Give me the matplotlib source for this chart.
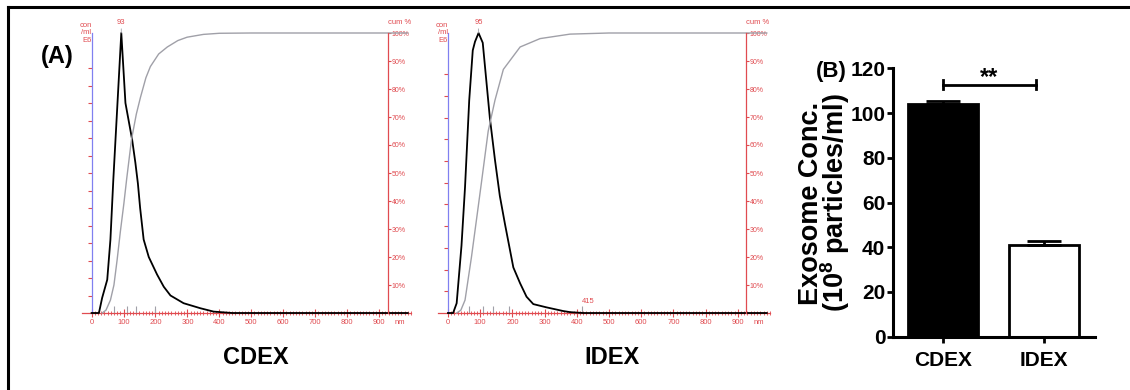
import numpy as np
import matplotlib
matplotlib.use("Agg")
import matplotlib.pyplot as plt
from matplotlib.lines import Line2D

plt.rcParams['mathtext.fontset'] = 'custom'
plt.rcParams['mathtext.rm'] = 'Liberation Sans:bold'
plt.rcParams['mathtext.bf'] = 'Liberation Sans:bold'

# ---------------- data ----------------
# NTA size distribution, CDEX (size nm, concentration E6/ml)
cdex_size = [0, 23, 33, 49, 59, 68, 93, 106, 127, 137, 145, 152, 163, 179, 205, 226, 247, 288, 341, 382, 440, 990]
cdex_conc = [0, 0, 0.86, 1.9, 4.2, 7.6, 16.0, 12.0, 9.9, 8.6, 7.4, 6.0, 4.2, 3.2, 2.2, 1.5, 1.0, 0.56, 0.27, 0.08, 0, 0]
cdex_cum_size = [33, 45, 59, 70, 80, 90, 101, 110, 125, 140, 153, 170, 184, 210, 237, 270, 299, 350, 400, 500, 990]
cdex_cum_pct = [0, 1, 4.6, 10, 19, 29, 39, 48, 62, 71, 77, 84, 88, 92.5, 95, 97.3, 98.5, 99.5, 99.9, 100, 100]
cdex_marks = [70, 111, 140, 199]

# NTA size distribution, IDEX
idex_size = [0, 16, 27, 42, 53, 66, 77, 84, 95, 108, 115, 130, 146, 161, 177, 203, 224, 244, 265, 306, 358, 379, 420, 990]
idex_conc = [0, 0, 0.45, 3.1, 5.8, 9.8, 12.1, 12.5, 12.9, 12.45, 11.35, 9.0, 7.05, 5.4, 4.1, 2.1, 1.37, 0.75, 0.41, 0.26, 0.09, 0.04, 0, 0]
idex_cum_size = [27, 40, 53, 73, 94, 105, 125, 146, 172, 224, 286, 379, 500, 990]
idex_cum_pct = [0, 1, 4.6, 20, 38, 47.5, 65, 76, 87, 95, 98, 99.6, 100, 100]
idex_marks = [66, 110, 139, 190]
idex_max_size = 415

# exosome concentration (10^8 particles/ml)
groups = ["CDEX", "IDEX"]
exo_conc = [104.2, 41.0]
exo_sem = [1.0, 1.7]
sig_y = 112.7

RED = '#e04b50'
BLUE = '#8080f0'
GRAY = '#a0a0a8'
FONT = ['Liberation Sans', 'DejaVu Sans']
SMALL = 5.5

W, H = 1130, 390
fig = plt.figure(figsize=(W / 100, H / 100), dpi=100)


def px_rect(x0, y_bottom, x1, y_top):
    return [x0 / W, (H - y_bottom) / H, (x1 - x0) / W, (y_bottom - y_top) / H]


def nta_panel(rect, size, conc, cum_size, cum_pct, ymax, nticks, marks, axis_right=927):
    ax = fig.add_axes(rect)
    ax.plot(size, conc, color='k', lw=1.3, clip_on=False, zorder=3)
    ax.set_xlim(-30, 1000)
    ax.set_ylim(0, ymax)
    ax.patch.set_alpha(0)
    for s in ['top', 'right']:
        ax.spines[s].set_visible(False)
    ax.spines['left'].set_position(('data', 0))
    ax.spines['left'].set_color(BLUE)
    ax.spines['bottom'].set_color(RED)
    ax.spines['left'].set_linewidth(0.9)
    ax.spines['bottom'].set_linewidth(0.9)
    ax.set_yticks(np.arange(1, nticks + 1))
    ax.tick_params(axis='y', colors=RED, length=3, width=0.8, labelleft=False)
    ax.set_xticks(np.arange(0, 1000, 100))
    ax.set_xticks(np.arange(0, 1001, 10), minor=True)
    ax.tick_params(axis='x', which='major', direction='inout', length=6, width=0.8,
                   colors=RED, labelsize=SMALL, pad=1.5)
    ax.tick_params(axis='x', which='minor', direction='inout', length=3, width=0.6, colors=RED)
    for lab in ax.get_xticklabels():
        lab.set_family(FONT)
    ax.vlines(marks, 0, ymax * 7 / 280, color=GRAY, lw=0.8)
    ax.annotate('nm', xy=(966, 0), xytext=(0, -4.5), textcoords='offset points',
                ha='center', va='top', color=RED, fontsize=SMALL, family=FONT)
    ax.text(0, 1.0, 'con\n/ml\nE6', transform=ax.get_xaxis_transform(), ha='right',
            va='center', color=RED, fontsize=SMALL, family=FONT, linespacing=1.05)
    ipk = int(np.argmax(conc))
    ax.annotate(str(size[ipk]), xy=(size[ipk], conc[ipk]), xytext=(0, 5),
                textcoords='offset points', ha='center', va='bottom', color=RED,
                fontsize=SMALL, family=FONT,
                arrowprops=dict(arrowstyle='-', color=GRAY, lw=0.6, shrinkA=0, shrinkB=0))

    tw = ax.twinx()
    tw.set_ylim(0, 100)
    tw.plot(cum_size, cum_pct, color=GRAY, lw=1.0, clip_on=False)
    for s in ['top', 'left', 'bottom']:
        tw.spines[s].set_visible(False)
    tw.spines['right'].set_position(('data', axis_right))
    tw.spines['right'].set_color(RED)
    tw.spines['right'].set_linewidth(0.9)
    tw.set_yticks(np.arange(10, 101, 10))
    tw.set_yticklabels([f"{v}%" for v in range(10, 101, 10)])
    tw.tick_params(axis='y', colors=RED, length=2, width=0.8, pad=0.8, labelsize=5)
    for lab in tw.get_yticklabels():
        lab.set_family(FONT)
    tw.text(axis_right, 1.036, 'cum %', transform=tw.get_xaxis_transform(), ha='left',
            va='center', color=RED, fontsize=SMALL, family=FONT)
    return ax


ax1 = nta_panel(px_rect(82, 313, 411, 33), cdex_size, cdex_conc, cdex_cum_size,
                cdex_cum_pct, 16.0, 14, cdex_marks, axis_right=928)
ax2 = nta_panel(px_rect(438.3, 313, 770, 33), idex_size, idex_conc, idex_cum_size,
                idex_cum_pct, 12.9, 11, idex_marks, axis_right=925)
ax2.vlines([idex_max_size], 0, 12.9 * 7 / 280, color=GRAY, lw=0.8)
ax2.annotate(str(idex_max_size), xy=(idex_max_size, 0), xytext=(0, 5.5),
             textcoords='offset points', ha='left', va='bottom', color=RED,
             fontsize=SMALL, family=FONT)

fig.text(256 / W, 1 - 357 / H, groups[0], ha='center', va='center', fontsize=17,
         fontweight='bold', family=FONT)
fig.text(612 / W, 1 - 357 / H, groups[1], ha='center', va='center', fontsize=17,
         fontweight='bold', family=FONT)
fig.text(57 / W, 1 - 56 / H, '(A)', ha='center', va='center', fontsize=17,
         fontweight='bold', family=FONT)

# ---------------- panel B ----------------
axb = fig.add_axes(px_rect(893, 336.7, 1095, 68.3))
xb = np.arange(len(groups))
axb.bar(xb, exo_conc, width=0.69, color=['k', 'w'], edgecolor='k', linewidth=2,
        yerr=[[0] * len(groups), exo_sem], capsize=12.5,
        error_kw=dict(elinewidth=2, capthick=2, ecolor='k'))
axb.set_xlim(-0.495, 1.505)
axb.set_ylim(0, 120)
for s in ['top', 'right']:
    axb.spines[s].set_visible(False)
for s in ['left', 'bottom']:
    axb.spines[s].set_linewidth(2.2)
axb.set_yticks(np.arange(0, 121, 20))
axb.set_xticks(xb)
axb.set_xticklabels(groups)
axb.tick_params(axis='y', length=4, width=2, pad=1.5, labelsize=15)
axb.tick_params(axis='x', length=4, width=2, pad=6, labelsize=15)
for lab in axb.get_xticklabels() + axb.get_yticklabels():
    lab.set_family(FONT)
    lab.set_fontweight('bold')

axb.plot([0, 0.92], [sig_y, sig_y], color='k', lw=2)
axb.plot([0, 0], [sig_y - 2.1, sig_y + 2.1], color='k', lw=2)
axb.plot([0.92, 0.92], [sig_y - 2.1, sig_y + 2.1], color='k', lw=2)
axb.annotate('**', xy=(0.46, sig_y), xytext=(0, -3), textcoords='offset points',
             ha='center', va='bottom', fontsize=17, fontweight='bold', family=FONT)

fig.text(825 / W, 1 - 203 / H, 'Exosome Conc.\n(10$^{8}$ particles/ml)', rotation=90,
         ha='center', va='center', fontsize=19.5, fontweight='bold', family=FONT,
         linespacing=0.78)
fig.text(831 / W, 1 - 72 / H, '(B)', ha='center', va='center', fontsize=16,
         fontweight='bold', family=FONT)

# frame around figure
fig.add_artist(Line2D([8 / W, 1], [1 - 7 / H, 1 - 7 / H], color='k', lw=2.2))
fig.add_artist(Line2D([8 / W, 8 / W], [0, 1 - 7 / H], color='k', lw=2.2))

fig.savefig('out.png', dpi=100)
